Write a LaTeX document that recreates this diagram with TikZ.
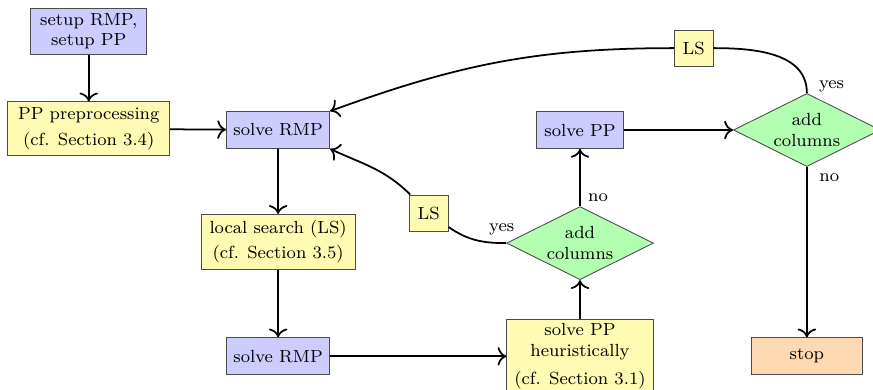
\documentclass[tikz,border=0pt]{standalone}
\usepackage{amsmath}
\usepackage{tikz}
\usetikzlibrary{shapes.geometric,positioning,arrows.meta}

\begin{document}
\begin{tikzpicture}[
  every node/.style={font=\footnotesize},
  blk/.style={rectangle,draw=black!70,align=center,inner sep=2pt},
  rmpbox/.style={blk,fill=blue!20,minimum width=1.65cm,minimum height=0.59cm},
  infobox/.style={blk,fill=yellow!30},
  lsbox/.style={blk,fill=yellow!30,minimum width=0.62cm,minimum height=0.58cm},
  decide/.style={diamond,draw=black!70,fill=green!30,align=center,aspect=2,
    inner sep=0pt,minimum width=2.35cm,minimum height=1.17cm},
  stopbox/.style={blk,fill=orange!30,minimum width=1.79cm,minimum height=0.59cm},
  flow/.style={-{To[scale=1.2]},thick}]
\useasboundingbox (0,0) rectangle (13.968,-6.24);
% left column
\node (setup) at (1.42,-0.50) [rmpbox,minimum width=1.86cm,minimum height=0.74cm] {setup RMP,\\setup PP};
\node (prep) at (1.42,-2.06) [infobox,minimum width=2.59cm,minimum height=0.86cm] {PP preprocessing\\[2pt](cf. Section 3.4)};
\node (rmp1) at (4.45,-2.08) [rmpbox] {solve RMP};
\node (lsrch) at (4.45,-3.87) [infobox,minimum width=2.46cm,minimum height=0.88cm] {local search (LS)\\[2pt](cf. Section 3.5)};
\node (rmp2) at (4.45,-5.70) [rmpbox] {solve RMP};
% heuristic column
\node (heur) at (9.28,-5.70) [infobox,minimum width=2.34cm,minimum height=1.09cm] {solve PP\\heuristically\\[3pt](cf. Section 3.1)};
\node (dec1) at (9.28,-3.89) [decide] {add\\columns};
\node (pp) at (9.28,-2.08) [rmpbox,minimum width=1.39cm] {solve PP};
% exact column
\node (dec2) at (12.91,-2.08) [decide] {add\\columns};
\node (stop) at (12.91,-5.70) [stopbox] {stop};
\node (ls1) at (6.86,-3.41) [lsbox] {LS};
\node (ls2) at (11.10,-0.77) [lsbox] {LS};
% connectors
\draw [flow] (setup) -- (prep);
\draw [flow] (prep) -- (rmp1);
\draw [flow] (rmp1) -- (lsrch);
\draw [flow] (lsrch) -- (rmp2);
\draw [flow] (rmp2) -- (heur);
\draw [flow] (heur) -- (dec1);
\draw [flow] (dec1) -- node[pos=0.15,right] {no} (pp);
\draw [thick] (dec1.west) to[out=180,in=-35] (ls1);
\node at (dec1.west) [above,xshift=-2pt,yshift=0pt] {yes};
\draw [flow] (ls1) to[out=135,in=-25] (rmp1.south east);
\draw [flow] (pp) -- (dec2);
\draw [flow] (dec2) -- node[pos=0.06,right,xshift=2pt] {no} (stop);
\draw [thick] (dec2.north) to[out=90,in=0] (ls2.east);
\node at (dec2.north) [above right,xshift=2pt,yshift=-3pt] {yes};
\draw [flow] (ls2.west) to[out=180,in=20] (rmp1.north east);
\end{tikzpicture}
\end{document}
